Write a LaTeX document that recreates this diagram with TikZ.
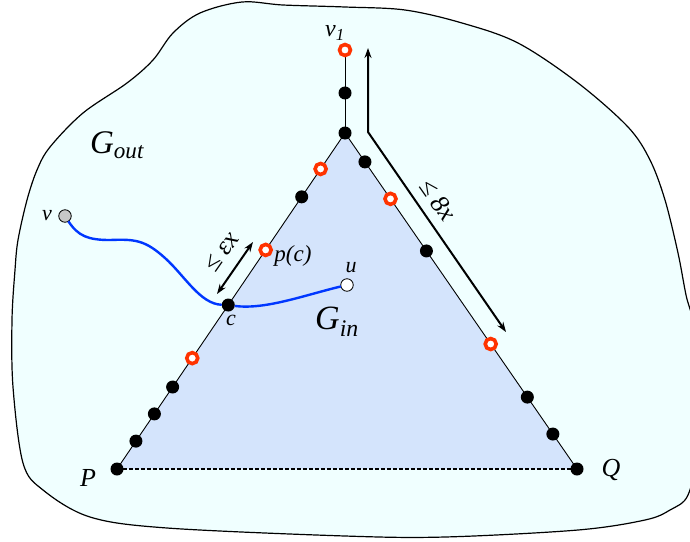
\documentclass[tikz,border=0pt]{standalone}
\usepackage{fontspec}
\setmainfont{Liberation Serif}
\usetikzlibrary{arrows.meta, calc}

\definecolor{outfill}{RGB}{240,255,255}
\definecolor{infill}{RGB}{212,228,252}
\definecolor{ringred}{RGB}{255,51,0}
\definecolor{pathblue}{RGB}{0,55,255}

\begin{document}
\begin{tikzpicture}[x=1pt,y=-1pt,
  blk/.style={circle, fill=black, inner sep=0pt, outer sep=0pt, minimum size=13pt},
  ringdot/.style={circle, draw=ringred, fill=white, line width=3.6pt, inner sep=0pt, outer sep=0pt, minimum size=11pt},
  endpt/.style={circle, draw=black, line width=0.8pt, inner sep=0pt, outer sep=0pt, minimum size=12.5pt},
  lbl/.style={font=\itshape\fontsize{22}{24}\selectfont, inner sep=1pt},
  dimarrow/.style={line width=2pt, arrows={Stealth[length=10pt,width=7pt]-Stealth[length=10pt,width=7pt]}}]
\useasboundingbox (0,0) rectangle (690,541);
\begin{scope}
\clip (0,0) rectangle (690,541);
% the outer graph G_out
\filldraw[fill=outfill, draw=black, line width=1.2pt] plot[smooth cycle, tension=0.55] coordinates {
  (242,2) (283,5) (345,7) (405,10) (462,23) (518,43) (578,83) (628,127) (650,160)
  (665,200) (678,253) (686,295) (696,340) (696,450) (688,495) (670,510) (645,520)
  (578,530) (445,537) (345,536) (167,528) (90,517) (43,490) (23,463) (13,387)
  (12,320) (15,270) (18,240) (27,200) (37,170) (50,147) (83,113) (127,83) (153,60)
  (173,33) (200,13)};
\end{scope}

% triangle G_in
\coordinate (P) at (117,469);
\coordinate (Q) at (577,469);
\coordinate (A) at (345,133);
\coordinate (V1) at (345,50);
\fill[infill] (P) -- (A) -- (Q) -- cycle;
\draw[line width=0.9pt] (P) -- (A) -- (Q);
\draw[line width=0.9pt] (A) -- (V1);
\draw[line width=1.3pt, dash pattern=on 3.5pt off 2.5pt] (P) -- (Q);

% vertices on the left side
\node[blk] (p0) at (P) {};
\node[blk] (l1) at ($(P)!0.083!(A)$) {};
\node[blk] (l2) at ($(P)!0.164!(A)$) {};
\node[blk] (l3) at ($(P)!0.244!(A)$) {};
\node[ringdot] (l4) at ($(P)!0.330!(A)$) {};
\node[blk] (c) at ($(P)!0.488!(A)$) {};
\node[ringdot] (pc) at ($(P)!0.652!(A)$) {};
\node[blk] (l6) at ($(P)!0.810!(A)$) {};
\node[ringdot] (l7) at ($(P)!0.893!(A)$) {};
\node[blk] (a0) at (A) {};
% vertices up to v1
\node[blk] (t1) at ($(A)!0.482!(V1)$) {};
\node[ringdot] (v1) at (V1) {};
% vertices on the right side
\node[blk] (r1) at ($(A)!0.086!(Q)$) {};
\node[ringdot] (r2) at ($(A)!0.196!(Q)$) {};
\node[blk] (r3) at ($(A)!0.351!(Q)$) {};
\node[ringdot] (r4) at ($(A)!0.628!(Q)$) {};
\node[blk] (r5) at ($(A)!0.786!(Q)$) {};
\node[blk] (r6) at ($(A)!0.896!(Q)$) {};
\node[blk] (q0) at (Q) {};

% path from v through c to u
\node[endpt, fill=black!22] (v) at (65,216) {};
\node[endpt, fill=white] (u) at (347,285) {};
\draw[pathblue, line width=2.4pt] (v) .. controls (78,236) and (88,240) .. (110,240)
  .. controls (135,239) and (145,240) .. (165,258)
  .. controls (185,276) and (200,304) .. (c);
\draw[pathblue, line width=2.4pt] (c) .. controls (265,310) and (305,295) .. (u);

% distance arrows
\coordinate (e1) at (217,294);
\coordinate (e2) at (253,242);
\draw[dimarrow] (e1) -- (e2);
\coordinate (k1) at (368,48);
\coordinate (k2) at (368,132);
\coordinate (k3) at (506,332);
\draw[dimarrow] (k1) -- (k2) -- (k3);

% labels
\node[lbl, font=\itshape\fontsize{24}{26}\selectfont] (lv1) at (335,33) {v\textsubscript{1}};
\node[lbl, font=\itshape\fontsize{33}{35}\selectfont] (lgout) at (117,145) {G\textsubscript{out}};
\node[lbl, font=\itshape\fontsize{34}{36}\selectfont] (lgin) at (337,322) {G\textsubscript{in}};
\node[lbl] (lv) at (47,216) {v};
\node[lbl] (lu) at (351,268) {u};
\node[lbl] (lc) at (231,320) {c};
\node[lbl, font=\itshape\fontsize{23}{25}\selectfont] (lpc) at (293,256) {p(c)};
\node[lbl, font=\itshape\fontsize{26}{28}\selectfont] (lp) at (88,478) {P};
\node[lbl, font=\itshape\fontsize{26}{28}\selectfont] (lq) at (611,470) {Q};
\node[lbl, font=\itshape\fontsize{26}{28}\selectfont, rotate=55] (leps) at (222,252) {≤ εx};
\node[lbl, font=\itshape\fontsize{26}{28}\selectfont, rotate=-55] (l8x) at (438,200) {≤ 8x};
\end{tikzpicture}
\end{document}
